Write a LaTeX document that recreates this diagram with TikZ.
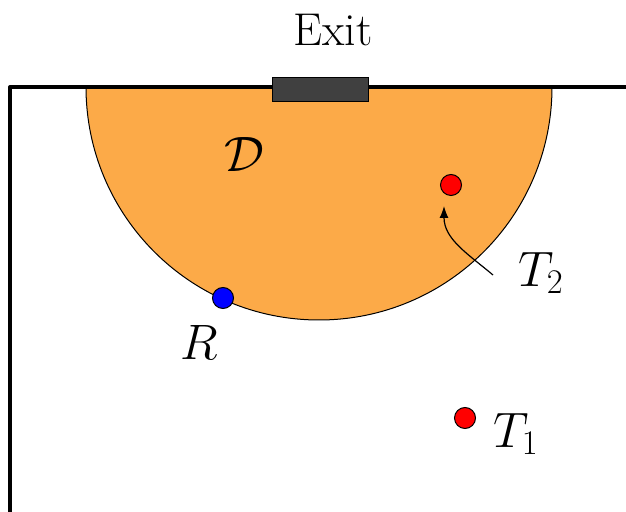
\documentclass[tikz,border=0pt]{standalone}
\usetikzlibrary{arrows.meta}
\definecolor{zone}{RGB}{252,170,72}
\definecolor{door}{RGB}{64,64,64}

\begin{document}
\begin{tikzpicture}[
  x=0.5pt, y=-0.5pt,
  wall/.style={line width=2pt, line join=round},
  agent/.style={circle, draw, line width=0.5pt, inner sep=0pt, minimum size=10.5pt},
  lbl/.style={font=\fontsize{23}{27}\selectfont},
  arrow/.style={-{Latex[length=6pt,width=4.5pt]}, line width=0.6pt}
]
\useasboundingbox (0,0) rectangle (626,512);
% safe zone
\fill[zone, draw=black, line width=0.5pt] (86,87) arc[start angle=180, end angle=0, radius=233] -- cycle;
% walls
\draw[wall] (10,512) -- (10,87) -- (626,87);
% exit door
\node[draw, fill=door, line width=0.5pt, minimum width=48pt, minimum height=12pt, inner sep=0pt] (door) at (320,90) {};
\node[lbl] (exit) at (333,30) {Exit};
\node[lbl, font=\fontsize{27}{30}\selectfont] (dom) at (244,155) {$\mathcal{D}$};
% robot and targets
\node[agent, fill=blue] (robot) at (223,298) {};
\node[agent, fill=red] (tgt2) at (451,185) {};
\node[agent, fill=red] (tgt1) at (465,418) {};
\node[lbl] (rlab) at (199,343) {$R$};
\node[lbl] (t2lab) at (541,273) {$T_2$};
\node[lbl] (t1lab) at (516,434) {$T_1$};
\coordinate (t2tail) at (493,275);
\coordinate (t2head) at (444,206);
\draw[arrow] (t2tail) to[out=140, in=-90] (t2head);
\end{tikzpicture}
\end{document}
